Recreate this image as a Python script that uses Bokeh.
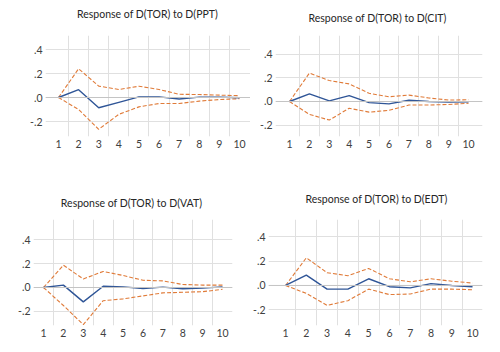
from bokeh.plotting import figure
from bokeh.layouts import column, row
from bokeh.models import FixedTicker, Span, Range1d, Label
from bokeh.embed import file_html
from bokeh.resources import INLINE

periods = [1, 2, 3, 4, 5, 6, 7, 8, 9, 10]
x_tick_labels = ["1", "2", "3", "4", "5", "6", "7", "8", "9", "10"]
y_ticks = [-0.2, 0.0, 0.2, 0.4]
y_tick_labels = ["-.2", ".0", ".2", ".4"]

titles = ["Response of D(TOR) to D(PPT)", "Response of D(TOR) to D(CIT)",
          "Response of D(TOR) to D(VAT)", "Response of D(TOR) to D(EDT)"]

resp_ppt = [0.0, 0.065, -0.085, -0.04, 0.005, 0.005, -0.012, 0.003, 0.003, -0.002]
up_ppt = [0.0, 0.24, 0.095, 0.067, 0.094, 0.067, 0.027, 0.025, 0.02, 0.015]
lo_ppt = [0.0, -0.10, -0.265, -0.14, -0.078, -0.05, -0.05, -0.03, -0.017, -0.01]

resp_cit = [0.0, 0.065, 0.005, 0.05, -0.01, -0.02, 0.01, 0.0, -0.005, -0.003]
up_cit = [0.0, 0.24, 0.177, 0.149, 0.069, 0.04, 0.054, 0.03, 0.012, 0.015]
lo_cit = [0.0, -0.109, -0.157, -0.057, -0.09, -0.075, -0.03, -0.03, -0.025, -0.015]

resp_vat = [0.0, 0.02, -0.12, 0.01, 0.005, -0.008, 0.003, -0.01, -0.005, 0.005]
up_vat = [0.0, 0.186, 0.071, 0.134, 0.1, 0.06, 0.055, 0.025, 0.02, 0.02]
lo_vat = [0.0, -0.15, -0.31, -0.11, -0.095, -0.07, -0.045, -0.04, -0.035, -0.015]

resp_edt = [0.0, 0.085, -0.03, -0.03, 0.055, -0.01, -0.02, 0.015, 0.0, -0.01]
up_edt = [0.0, 0.227, 0.105, 0.08, 0.14, 0.055, 0.03, 0.055, 0.035, 0.02]
lo_edt = [0.0, -0.065, -0.164, -0.125, -0.03, -0.075, -0.07, -0.03, -0.03, -0.035]

series = [(resp_ppt, up_ppt, lo_ppt), (resp_cit, up_cit, lo_cit),
          (resp_vat, up_vat, lo_vat), (resp_edt, up_edt, lo_edt)]

# panel layout: (x_start, x_end, y_start, y_end, border l, r, t, b, height)
frames = [
    (0.354, 10.547, -0.325, 0.517, 45, 0, 9, 40, 150),
    (0.296, 10.70, -0.296, 0.558, 25, 18, 9, 40, 150),
    (0.497, 10.50, -0.317, 0.567, 33, 18, 9, 27, 142),
    (0.18, 10.48, -0.329, 0.542, 18, 18, 9, 27, 142),
]
# title strips: (strip height, title centre x, title centre y from bottom)
strips = [(26, 147, 13), (26, 127, 9), (34, 131, 8), (34, 126, 12)]

BLUE = "#2f5597"
ORANGE = "#e07b39"
GRID = "#e0e0e0"
TXT = "#404040"
FONT = "Lato"


def make_title(i):
    h, tx, ty = strips[i]
    t = figure(width=250, height=h, output_backend="svg", toolbar_location=None,
               x_axis_type=None, y_axis_type=None,
               x_range=Range1d(0, 250), y_range=Range1d(0, h),
               min_border=0)
    t.outline_line_color = None
    t.background_fill_color = "white"
    t.border_fill_color = "white"
    t.add_layout(Label(x=tx, y=ty, text=titles[i],
                       text_align="center", text_baseline="middle",
                       text_font=FONT, text_font_size="10.5px", text_color="#262626"))
    return t


def make(i):
    xs, xe, ys, ye, bl, br, bt, bb, h = frames[i]
    resp, up, lo = series[i]
    p = figure(width=250, height=h, output_backend="svg", toolbar_location=None,
               x_range=Range1d(xs, xe), y_range=Range1d(ys, ye),
               min_border_left=bl, min_border_right=br,
               min_border_top=bt, min_border_bottom=bb)
    p.outline_line_color = None
    p.background_fill_color = "white"
    p.border_fill_color = "white"

    for ax in (p.xaxis[0], p.yaxis[0]):
        ax.axis_line_color = None
        ax.major_tick_line_color = None
        ax.minor_tick_line_color = None
        ax.major_tick_out = 0
        ax.major_tick_in = 0
        ax.major_label_text_font = FONT
        ax.major_label_text_font_size = "10.5px"
        ax.major_label_text_color = TXT
        ax.major_label_standoff = 3

    p.xaxis.ticker = FixedTicker(ticks=periods)
    p.xaxis.major_label_overrides = {v: s for v, s in zip(periods, x_tick_labels)}
    p.yaxis.ticker = FixedTicker(ticks=y_ticks)
    p.yaxis.major_label_overrides = {v: s for v, s in zip(y_ticks, y_tick_labels)}

    p.xgrid.ticker = FixedTicker(ticks=[v + 0.5 for v in periods[:-1]])
    p.xgrid.grid_line_color = GRID
    p.ygrid.grid_line_color = GRID
    p.add_layout(Span(location=0, dimension="width", line_color="#c4c4c4", line_width=1))

    p.line(periods, up, line_color=ORANGE, line_width=1.1, line_dash="4 2")
    p.line(periods, lo, line_color=ORANGE, line_width=1.1, line_dash="4 2")
    p.line(periods, resp, line_color=BLUE, line_width=1.4)
    return p


plots = [make(i) for i in range(4)]
heads = [make_title(i) for i in range(4)]
layout = column(row(heads[0], heads[1]), row(plots[0], plots[1]),
                row(heads[2], heads[3]), row(plots[2], plots[3]))

open("out.html", "w").write(file_html(layout, INLINE))
